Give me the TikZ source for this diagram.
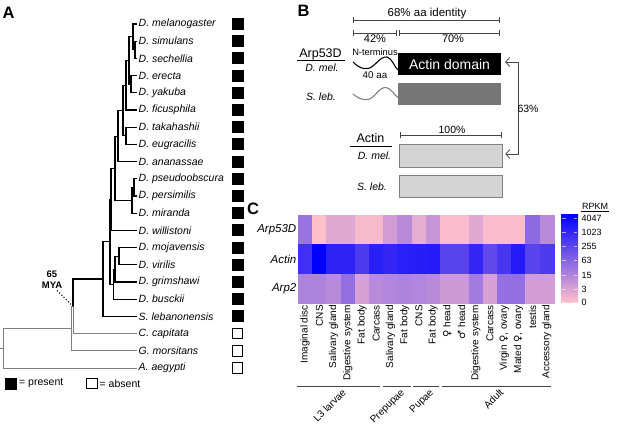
\documentclass[tikz,border=0pt]{standalone}
\usepackage{fontspec}
\setmainfont{Liberation Sans}
\newfontfamily\symf{DejaVu Sans}
\usetikzlibrary{arrows.meta,calc}
\definecolor{lo}{RGB}{255,192,203}
\definecolor{hi}{RGB}{0,0,255}
\definecolor{dg}{RGB}{68,68,68}
\definecolor{tg}{RGB}{128,128,128}
\definecolor{boxdark}{RGB}{118,118,118}
\definecolor{boxlight}{RGB}{212,212,212}
\newcommand\fem{{\symf ♀}}
\newcommand\mal{{\symf ♂}}
\tikzset{
 tip/.style={anchor=west, inner sep=0pt, font=\fontsize{10.5}{12}\selectfont\itshape},
 br/.style={line width=1.1pt, black},
 brg/.style={line width=0.8pt, tg},
 psq/.style={fill=black, minimum size=12pt, inner sep=0pt},
 asq/.style={draw=black, line width=1pt, fill=white, minimum size=10.5pt, inner sep=0pt},
 panel/.style={font=\fontsize{16.5}{16.5}\selectfont\bfseries, inner sep=0pt},
 txt/.style={inner sep=0pt, font=\fontsize{#1}{#1}\selectfont},
 itxt/.style={inner sep=0pt, font=\fontsize{#1}{#1}\selectfont\itshape},
 mbar/.style={{Bar[width=6pt]}-{Bar[width=6pt]}, dg, line width=0.8pt},
 dbox/.style={minimum width=103pt, minimum height=22pt, inner sep=0pt},
 rowl/.style={anchor=east, inner sep=0pt, font=\fontsize{11.5}{12}\selectfont\itshape},
 coll/.style={rotate=90, anchor=east, inner sep=0pt, font=\fontsize{10}{11}\selectfont},
 grpl/.style={rotate=45, anchor=north east, inner sep=0pt, font=\fontsize{10}{11}\selectfont},
 gline/.style={dg, line width=0.9pt},
 cbl/.style={anchor=west, inner sep=0pt, font=\fontsize{9}{10}\selectfont},
}
\begin{document}
\begin{tikzpicture}[x=1pt,y=-1pt]
\useasboundingbox (0,0) rectangle (617,426);

% ---------------- Panel A ----------------
\node[panel] (labA) at (8.5,12.5) {A};
\foreach \n/\t [count=\i from 0] in {mel/D. melanogaster, sim/D. simulans, sec/D. sechellia, ere/D. erecta, yak/D. yakuba, fic/D. ficusphila, tak/D. takahashii, eug/D. eugracilis, ana/D. ananassae, pse/D. pseudoobscura, per/D. persimilis, mir/D. miranda, wil/D. willistoni, moj/D. mojavensis, vir/D. virilis, gri/D. grimshawi, bus/D. busckii, leb/S. lebanonensis, cca/C. capitata, gmo/G. morsitans, aae/A. aegypti}
{
  \pgfmathsetmacro\yy{24+\i*17.2}
  \coordinate (\n) at (137,\yy);
  \node[tip] (t\n) at (138.5,\yy) {\t};
}
\foreach \i in {0,...,17} \node[psq] (sq\i) at (237.5,{24+\i*17.2}) {};
\foreach \i in {18,19,20} \node[asq] (sq\i) at (237.5,{24+\i*17.2}) {};

\coordinate (n1) at (135,49.8);
\coordinate (n2) at (133,36.9);
\coordinate (n3) at (131,84.2);
\coordinate (n4) at (129,60.55);
\coordinate (n5) at (126,85.3);
\coordinate (n6) at (126,135.8);
\coordinate (n7) at (123,110.5);
\coordinate (n8) at (118,136.1);
\coordinate (n9) at (134,187.4);
\coordinate (n10) at (132,200.3);
\coordinate (n11) at (115,168.2);
\coordinate (n12) at (111,199.3);
\coordinate (n13) at (119,256.2);
\coordinate (n14) at (115,269.1);
\coordinate (n15) at (113.5,284.2);
\coordinate (n16) at (110,241.7);
\coordinate (n17) at (103,279);
\coordinate (n18) at (73,306.3);
\coordinate (n19) at (71,328.5);
\coordinate (n20) at (3,348.3);
\coordinate (rt) at (0,348.3);

\draw[br] (n1) |- (sim); \draw[br] (n1) |- (sec);
\draw[br] (n2) |- (mel); \draw[br] (n2) |- (n1);
\draw[br] (n3) |- (ere); \draw[br] (n3) |- (yak);
\draw[br] (n4) |- (n2); \draw[br] (n4) |- (n3);
\draw[br] (n5) |- (n4); \draw[br] (n5) |- (fic);
\draw[br] (n6) |- (tak); \draw[br] (n6) |- (eug);
\draw[br] (n7) |- (n5); \draw[br] (n7) |- (n6);
\draw[br] (n8) |- (n7); \draw[br] (n8) |- (ana);
\draw[br] (n9) |- (pse); \draw[br] (n9) |- (per);
\draw[br] (n10) |- (n9); \draw[br] (n10) |- (mir);
\draw[br] (n11) |- (n8); \draw[br] (n11) |- (n10);
\draw[br] (n12) |- (n11); \draw[br] (n12) |- (wil);
\draw[br] (n13) |- (moj); \draw[br] (n13) |- (vir);
\draw[br] (n14) |- (n13); \draw[br] (n14) |- (gri);
\draw[br] (n15) |- (n14); \draw[br] (n15) |- (bus);
\draw[br] (n16) |- (n12); \draw[br] (n16) |- (n15);
\draw[br] (n17) |- (n16); \draw[br] (n17) |- (leb);
\draw[br] (n18) |- (n17);
\draw[brg] (n18) |- (cca);
\draw[brg] (n19) |- (n18); \draw[brg] (n19) |- (gmo);
\draw[brg] (n20) |- (n19); \draw[brg] (n20) |- (aae);
\draw[brg] (rt) -- (n20);

\node[align=center, inner sep=0pt, font=\fontsize{9.5}{11}\selectfont\bfseries] (mya) at (52,280) {65\\MYA};
\draw[dotted, line width=1.1pt] ($(mya.south)+(5,1.5)$) -- (n18);

\node[psq] (legp) at (11,383.5) {};
\node[txt=10.5, anchor=west] (legpt) at (19,383.5) {= present};
\node[asq] (lega) at (92,383.5) {};
\node[txt=10.5, anchor=west] (legat) at (99.5,383.5) {= absent};

% ---------------- Panel B ----------------
\node[panel] (labB) at (303.5,11) {B};
\node[txt=11.5] (id68) at (427,13.5) {68\% aa identity};
\draw[mbar] (353,20) -- (500,20);
\draw[mbar] (353,33) -- (397,33);
\draw[mbar] (399,33) -- (500,33);
\node[txt=11] (p42) at (375,39) {42\%};
\node[txt=11] (p70) at (453,39) {70\%};

\node[dbox, fill=black, text=white, font=\fontsize{14}{14}\selectfont] (adom) at (449.5,64) {Actin domain};
\node[dbox, fill=boxdark] (sdom) at (449.5,94) {};
\node[dbox, fill=boxlight, draw=tg, line width=0.6pt, minimum height=23pt] (amel) at (450.5,155.5) {};
\node[dbox, fill=boxlight, draw=tg, line width=0.6pt] (aleb) at (450.5,186) {};

\node[txt=12.5] (arp53) at (320.5,54.5) {Arp53D};
\draw[line width=0.8pt] (297,60.5) -- (345,60.5);
\node[itxt=10.5] (dmel1) at (322,67.5) {D. mel.};
\node[itxt=10.5] (sleb1) at (321,97) {S. leb.};
\node[txt=9.3] (nterm) at (375,52) {N-terminus};
\node[txt=9.8] (aa40) at (375,75.5) {40 aa};
\draw[line width=1.1pt] (353,62) .. controls (359,68) and (363,69) .. (368,68.5) .. controls (375,67) and (380,56) .. (387,57) .. controls (392,58) and (395,68) .. (398,70);
\draw[line width=1.1pt, tg] (353,94) .. controls (359,99) and (363,100) .. (368,99.5) .. controls (375,98) and (379,87) .. (386,87.5) .. controls (391,88) and (395,96) .. (398,97.5);

\coordinate (ar1) at ($(adom.east)+(4,-2)$);
\coordinate (ar2) at ($(amel.east)+(3,-1.5)$);
\draw[{Straight Barb[length=4pt,width=9pt]}-{Straight Barb[length=4pt,width=9pt]}, dg, line width=0.8pt] (ar1) -- ++(13,0) |- (ar2);
\node[txt=10.5] (p63) at (528,109) {63\%};

\draw[mbar] (400,135) -- (502,135);
\node[txt=10.5] (p100) at (452,129.5) {100\%};
\node[txt=12.5] (actl) at (370.5,138) {Actin};
\draw[line width=0.8pt] (350,146.5) -- (392,146.5);
\node[itxt=10.5] (dmel2) at (374.5,155.5) {D. mel.};
\node[itxt=10.5] (sleb2) at (372,187) {S. leb.};

% ---------------- Panel C ----------------
\node[panel] (labC) at (253,208.5) {C};
\foreach \r/\vals in {0/{40,0,12,12,3,3,18,28,10,22,2,2,12,2,2,2,45,28},1/{75,100,82,82,70,84,80,84,85,86,65,65,80,62,72,86,65,70},2/{32,32,28,42,16,28,30,32,30,28,20,20,36,16,42,42,18,18}}{
  \foreach \v [count=\c from 0] in \vals {
    \filldraw[fill=hi!\v!lo, draw=hi!\v!lo, line width=0.3pt] ({298+\c*14.222},{215+\r*29.4}) rectangle ++(14.222,29.4);
  }
}
\node[rowl] (rA) at (296.5,229.7) {Arp53D};
\node[rowl] (rB) at (296.5,259.1) {Actin};
\node[rowl] (rC) at (296.5,288.5) {Arp2};

\foreach \t [count=\c from 0] in {Imaginal disc, CNS, Salivary gland, Digestive system, Fat body, Carcass, Salivary gland, Fat body, CNS, Fat body, \fem{} head, \mal{} head, Digestive system, Carcass, {Virgin \fem, ovary}, {Mated \fem, ovary}, testis, Accessory gland}
  \node[coll] (col\c) at ({298+(\c+0.5)*14.222},305) {\t};

\draw[gline] (297,386) -- (380,386);
\draw[gline] (383,386) -- (411,386);
\draw[gline] (413,386) -- (439,386);
\draw[gline] (442,386) -- (551,386);
\node[grpl] (gL3) at (341.5,388) {L3 larvae};
\node[grpl] (gPre) at (400,388) {Prepupae};
\node[grpl] (gPu) at (429,388) {Pupae};
\node[grpl] (gAd) at (499,388) {Adult};

\shade[top color=hi, bottom color=lo] (561,214) rectangle (578,302.3);
\foreach \t/\yy in {4047/218.3, 1023/232.3, 255/246.7, 63/260.7, 15/275, 3/289.3, 0/302.3}{
  \node[cbl] (cb\t) at (581.5,\yy) {\t};
  \draw[white, opacity=0.6, line width=0.6pt] (562,\yy) -- (565.5,\yy);
  \draw[white, opacity=0.6, line width=0.6pt] (573.5,\yy) -- (577,\yy);
}
\node[txt=9] (rpkm) at (595,206.5) {RPKM};
\draw[line width=0.7pt] (581,211) -- (609,211);
\end{tikzpicture}
\end{document}
